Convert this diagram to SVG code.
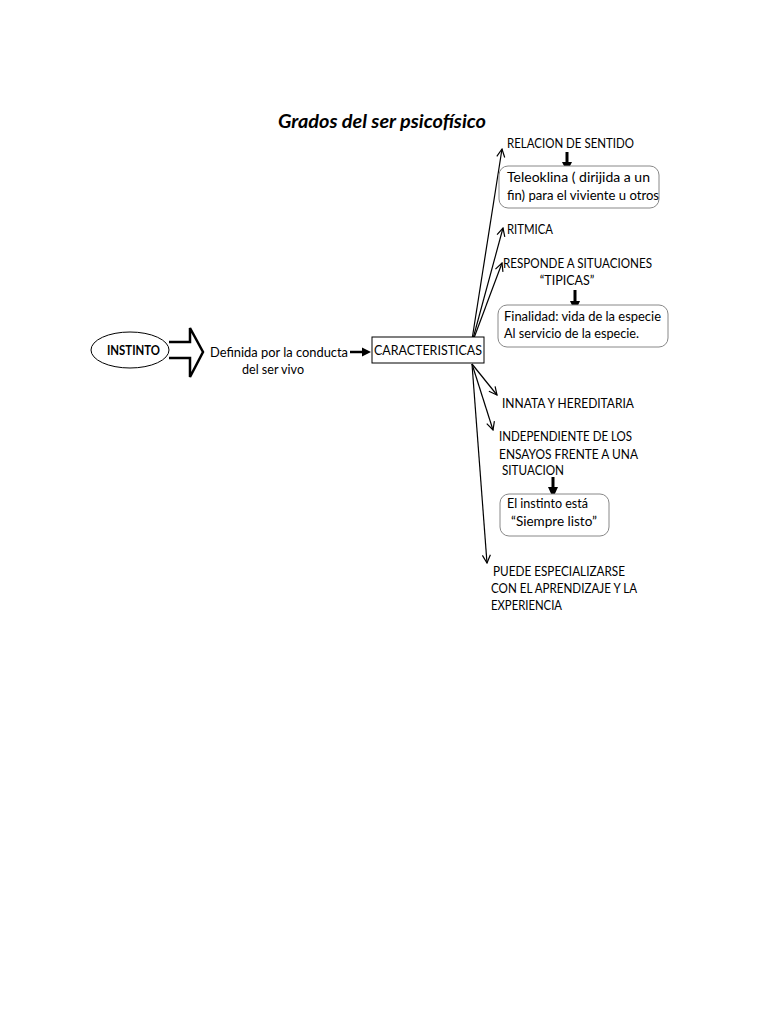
<svg xmlns="http://www.w3.org/2000/svg" width="768" height="1024" viewBox="0 0 768 1024">
<style>
text{font-family:Lato,"Open Sans","Liberation Sans",sans-serif;font-size:12.5px;fill:#000}
.b{font-weight:bold}
.ln{stroke:#000;stroke-width:1.2;fill:none}
.box{fill:#fff;stroke:#888;stroke-width:1}
.thick{stroke:#000;stroke-width:3;fill:none}
.head{fill:#000;stroke:none}
</style>
<defs>
<marker id="open" markerWidth="10" markerHeight="10" refX="9" refY="5" orient="auto" markerUnits="userSpaceOnUse">
<path d="M1,1 L9,5 L1,9" fill="none" stroke="#000" stroke-width="1.2"/>
</marker>
</defs>
<rect width="768" height="1024" fill="#fff"/>
<text x="382" y="128" text-anchor="middle" style="font-size:18px;font-weight:bold;font-style:italic" textLength="208" lengthAdjust="spacingAndGlyphs">Grados del ser psicofísico</text>

<g id="connectors">
<path d="M169,342 H190 V328 L203,352 L190,377 V358 H169" fill="#fff" stroke="#000" stroke-width="2.5" stroke-linejoin="miter"/>
<line x1="350" y1="352" x2="364" y2="352" class="thick" style="stroke-width:2.5"/>
<polygon points="362,347.5 371,352 362,356.5" class="head"/>
<line x1="471" y1="346" x2="502" y2="149" class="ln" marker-end="url(#open)"/>
<line x1="471" y1="346" x2="503" y2="228" class="ln" marker-end="url(#open)"/>
<line x1="471" y1="346" x2="502" y2="263" class="ln" marker-end="url(#open)"/>
<line x1="472" y1="364" x2="497" y2="395" class="ln" marker-end="url(#open)"/>
<line x1="472" y1="364" x2="493" y2="430" class="ln" marker-end="url(#open)"/>
<line x1="472" y1="364" x2="487" y2="563" class="ln" marker-end="url(#open)"/>
<line x1="567" y1="152" x2="567" y2="164" class="thick"/>
<polygon points="562,162 572,162 567,172" class="head"/>
<line x1="575" y1="290" x2="575" y2="303" class="thick"/>
<polygon points="570,301 580,301 575,312" class="head"/>
<line x1="553" y1="477" x2="553" y2="489" class="thick"/>
<polygon points="548,487 558,487 553,498" class="head"/>
</g>

<g id="instinto">
<ellipse cx="130" cy="350" rx="39" ry="18" fill="#fff" stroke="#000" stroke-width="1"/>
<text x="107" y="355" class="b" textLength="53" lengthAdjust="spacingAndGlyphs">INSTINTO</text>
</g>
<g id="definida">
<text x="210" y="357" textLength="138" lengthAdjust="spacingAndGlyphs">Definida por la conducta</text>
<text x="242" y="374" textLength="62" lengthAdjust="spacingAndGlyphs">del ser vivo</text>
</g>
<g id="caracteristicas">
<rect x="372" y="337" width="112" height="26" fill="#fff" stroke="#000" stroke-width="1"/>
<text x="374" y="355" textLength="108" lengthAdjust="spacingAndGlyphs">CARACTERISTICAS</text>
</g>
<g id="relacion">
<text x="507" y="148" textLength="127" lengthAdjust="spacingAndGlyphs">RELACION DE SENTIDO</text>
</g>
<g id="teleoklina">
<rect x="499" y="166" width="160" height="42" rx="9" class="box"/>
<text x="507" y="182" textLength="143" lengthAdjust="spacingAndGlyphs">Teleoklina ( dirijida a un</text>
<text x="507" y="200" textLength="152" lengthAdjust="spacingAndGlyphs">fin) para el viviente u otros</text>
</g>
<g id="ritmica">
<text x="507" y="234" textLength="46" lengthAdjust="spacingAndGlyphs">RITMICA</text>
</g>
<g id="responde">
<text x="503" y="268" textLength="149" lengthAdjust="spacingAndGlyphs">RESPONDE A SITUACIONES</text>
<text x="567" y="285" text-anchor="middle">“TIPICAS”</text>
</g>
<g id="finalidad">
<rect x="498" y="305" width="170" height="42" rx="9" class="box"/>
<text x="504" y="321" textLength="157" lengthAdjust="spacingAndGlyphs">Finalidad: vida de la especie</text>
<text x="504" y="338" textLength="135" lengthAdjust="spacingAndGlyphs">Al servicio de la especie.</text>
</g>
<g id="innata">
<text x="502" y="408" textLength="132" lengthAdjust="spacingAndGlyphs">INNATA Y HEREDITARIA</text>
</g>
<g id="independiente">
<text x="499" y="441" textLength="133" lengthAdjust="spacingAndGlyphs">INDEPENDIENTE DE LOS</text>
<text x="499" y="459" textLength="139" lengthAdjust="spacingAndGlyphs">ENSAYOS FRENTE A UNA</text>
<text x="502" y="475" textLength="62" lengthAdjust="spacingAndGlyphs">SITUACION</text>
</g>
<g id="siempre">
<rect x="500" y="494" width="109" height="42" rx="9" class="box"/>
<text x="507" y="508" textLength="81" lengthAdjust="spacingAndGlyphs">El instinto está</text>
<text x="511" y="526" textLength="86" lengthAdjust="spacingAndGlyphs">“Siempre listo”</text>
</g>
<g id="puede">
<text x="493" y="576" textLength="132" lengthAdjust="spacingAndGlyphs">PUEDE ESPECIALIZARSE</text>
<text x="491" y="593" textLength="146" lengthAdjust="spacingAndGlyphs">CON EL APRENDIZAJE Y LA</text>
<text x="491" y="610" textLength="71" lengthAdjust="spacingAndGlyphs">EXPERIENCIA</text>
</g>
</svg>
